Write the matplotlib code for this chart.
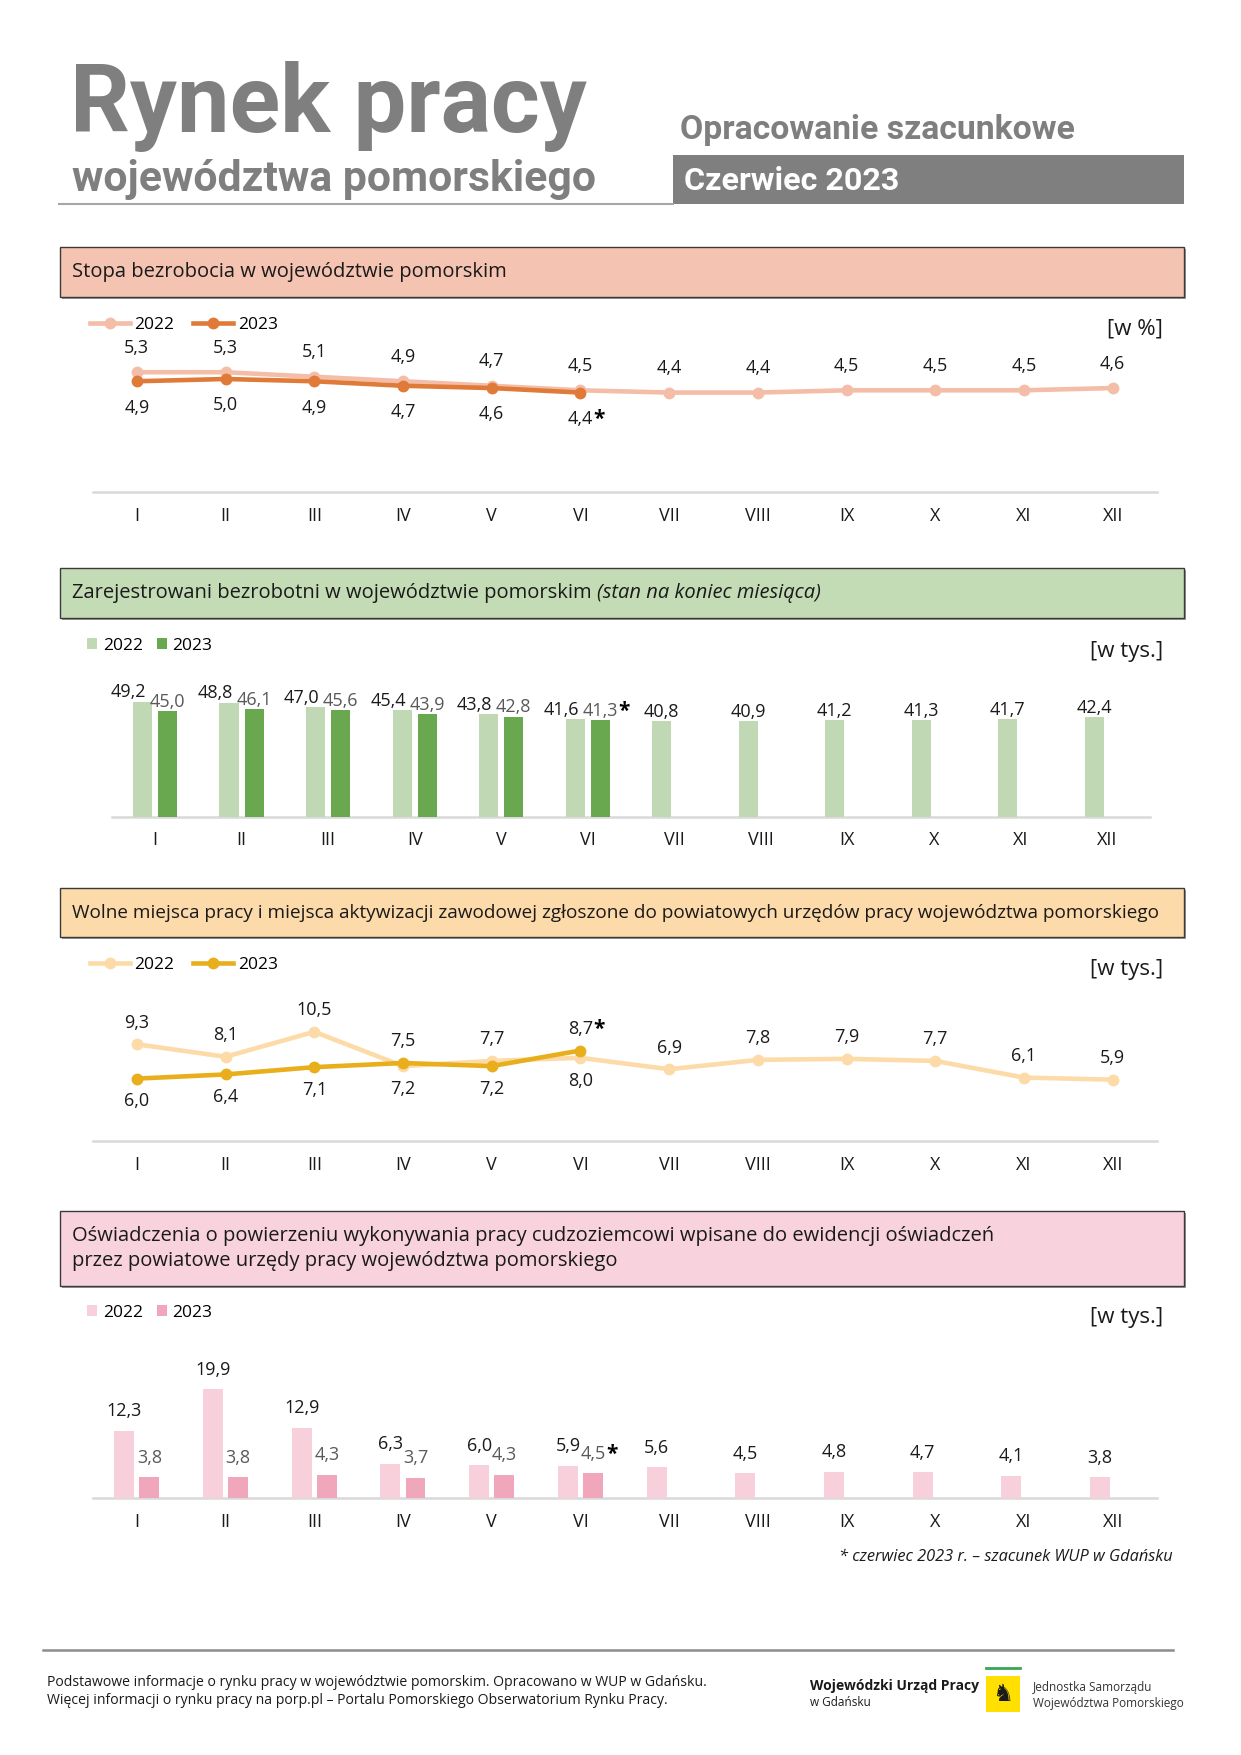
import numpy as np
import matplotlib.pyplot as plt
from matplotlib.patches import Rectangle
from matplotlib.lines import Line2D

W, H = 1241, 1755  # output size in px (dpi 100)

months = ['I', 'II', 'III', 'IV', 'V', 'VI', 'VII', 'VIII', 'IX', 'X', 'XI', 'XII']
years = ['2022', '2023']

# Stopa bezrobocia [%]
rate_2022 = [5.3, 5.3, 5.1, 4.9, 4.7, 4.5, 4.4, 4.4, 4.5, 4.5, 4.5, 4.6]
rate_2023 = [4.9, 5.0, 4.9, 4.7, 4.6, 4.4]

# Zarejestrowani bezrobotni [tys.]
unemployed_2022 = [49.2, 48.8, 47.0, 45.4, 43.8, 41.6, 40.8, 40.9, 41.2, 41.3, 41.7, 42.4]
unemployed_2023 = [45.0, 46.1, 45.6, 43.9, 42.8, 41.3]

# Wolne miejsca pracy [tys.]
offers_2022 = [9.3, 8.1, 10.5, 7.2, 7.7, 8.0, 6.9, 7.8, 7.9, 7.7, 6.1, 5.9]
offers_2023 = [6.0, 6.4, 7.1, 7.5, 7.2, 8.7]

# Oswiadczenia [tys.]
declar_2022 = [12.3, 19.9, 12.9, 6.3, 6.0, 5.9, 5.6, 4.5, 4.8, 4.7, 4.1, 3.8]
declar_2023 = [3.8, 3.8, 4.3, 3.7, 4.3, 4.5]

plt.rcParams['font.family'] = ['Open Sans', 'DejaVu Sans']

fig = plt.figure(figsize=(W / 100, H / 100), dpi=100)


def fx(x):
    return x / W


def fy(y):
    return 1 - y / H


def fmt(v):
    return f'{v:.1f}'.replace('.', ',')


def header_box(top, bottom, color):
    # drop shadow + box
    fig.patches.append(Rectangle((fx(62), fy(bottom + 2)), (1184 - 60) / W, (bottom - top) / H,
                                 transform=fig.transFigure, facecolor='#9a9a9a', edgecolor='none', zorder=0))
    fig.patches.append(Rectangle((fx(60), fy(bottom)), (1184 - 60) / W, (bottom - top) / H,
                                 transform=fig.transFigure, facecolor=color, edgecolor='#3a3a3a', lw=1, zorder=1))


def make_axes(left, right, baseline, ymax, px_unit):
    top = baseline - ymax * px_unit
    ax = fig.add_axes([fx(left), fy(baseline), (right - left) / W, (baseline - top) / H])
    ax.set_xlim(-0.5, 11.5)
    ax.set_ylim(0, ymax)
    for s in ax.spines.values():
        s.set_visible(False)
    ax.axhline(0, color='#D9D9D9', lw=1.8, zorder=1, clip_on=False)
    ax.set_yticks([])
    ax.set_xticks(range(12))
    ax.set_xticklabels(months)
    ax.tick_params(axis='x', length=0, pad=10.5, labelsize=13, labelcolor='#1a1a1a')
    ax.patch.set_alpha(0)
    return ax


def add_star(ax, txt):
    ax.annotate('*', xy=(1, 1), xycoords=txt, xytext=(0.5, 1), textcoords='offset points',
                ha='left', va='top', fontsize=15, fontweight='bold', color='black')


def line_chart(ax, v22, v23, c22, c23, up_off, down_off):
    l22, = ax.plot(range(len(v22)), v22, color=c22, lw=3.3, marker='o', ms=7.5,
                   zorder=3, clip_on=False)
    l23, = ax.plot(range(len(v23)), v23, color=c23, lw=3.3, marker='o', ms=7.5,
                   zorder=4, clip_on=False)
    for i, v in enumerate(v22):
        up = not (i < len(v23) and v23[i] > v)
        ax.annotate(fmt(v), (i, v), xytext=(0, up_off if up else -down_off),
                    textcoords='offset points', ha='center',
                    va='baseline' if up else 'top', fontsize=13, color='#1a1a1a')
    t = None
    for i, v in enumerate(v23):
        up = v > v22[i]
        t = ax.annotate(fmt(v), (i, v), xytext=(0, up_off if up else -down_off),
                        textcoords='offset points', ha='center',
                        va='baseline' if up else 'top', fontsize=13, color='#1a1a1a')
    add_star(ax, t)
    return l22, l23


def bar_chart(ax, v22, v23, c22, c23, width, off, pad, shift22):
    x = np.arange(len(v22))
    b22 = ax.bar(x - off, v22, width, color=c22, zorder=2)
    b23 = ax.bar(x[:len(v23)] + off, v23, width, color=c23, zorder=2)
    for i, v in enumerate(v22):
        dx = shift22 if i < len(v23) else 0
        ax.annotate(fmt(v), (i - off, v), xytext=(dx, pad), textcoords='offset points',
                    ha='center', va='baseline', fontsize=13, color='#1a1a1a')
    t = None
    for i, v in enumerate(v23):
        t = ax.annotate(fmt(v), (i + off, v), xytext=(0, pad), textcoords='offset points',
                        ha='center', va='baseline', fontsize=13, color='#595959')
    add_star(ax, t)
    return b22, b23


def line_legend(handles, y):
    fig.legend(handles, years, loc='center left', bbox_to_anchor=(fx(90), fy(y)), ncol=2,
               frameon=False, handlelength=2.3, handletextpad=0.25, columnspacing=1.1,
               fontsize=12.5, borderaxespad=0, borderpad=0)


def bar_legend(handles, y):
    fig.legend(handles, years, loc='center left', bbox_to_anchor=(fx(87), fy(y)), ncol=2,
               frameon=False, handlelength=0.6, handleheight=0.6, handletextpad=0.3,
               columnspacing=0.8, fontsize=12.5, borderaxespad=0, borderpad=0)


def unit_label(text, y):
    fig.text(fx(1163), fy(y), text, ha='right', va='center', fontsize=16, color='#1a1a1a')


# ---- page title ----
fig.text(fx(70), fy(132), 'Rynek pracy', family='Roboto', fontweight='bold', fontsize=67.5,
         color='#7f7f7f', ha='left', va='baseline')
fig.text(fx(72), fy(191), 'województwa pomorskiego', family='Roboto', fontweight='bold',
         fontsize=30.8, color='#7f7f7f', ha='left', va='baseline')
fig.text(fx(680), fy(139), 'Opracowanie szacunkowe', family='Roboto', fontweight='bold',
         fontsize=24.3, color='#7f7f7f', ha='left', va='baseline')
fig.patches.append(Rectangle((fx(673), fy(204)), (1184 - 673) / W, (204 - 155) / H,
                             transform=fig.transFigure, facecolor='#7f7f7f', edgecolor='none'))
fig.text(fx(684), fy(190), 'Czerwiec 2023', family='Roboto', fontweight='bold',
         fontsize=23.2, color='white', ha='left', va='baseline')
fig.add_artist(Line2D([fx(59), fx(673)], [fy(204), fy(204)], color='#a6a6a6', lw=1.5))

# ---- section 1 ----
header_box(247, 297, '#F5C3B1')
fig.text(fx(72), fy(272), 'Stopa bezrobocia w województwie pomorskim', fontsize=14.5,
         ha='left', va='center', color='#1a1a1a')
ax1 = make_axes(92.5, 1157, 492, 7, 22.6)
h1 = line_chart(ax1, rate_2022, rate_2023, '#F4BDA8', '#E07A38', 14, 12.5)
line_legend(h1, 325)
unit_label('[w %]', 329)

# ---- section 2 ----
header_box(568, 618, '#C4DCB6')
t2 = fig.text(fx(72), fy(593), 'Zarejestrowani bezrobotni w województwie pomorskim ', fontsize=14.5,
              ha='left', va='center', color='#1a1a1a')
bb = t2.get_window_extent(renderer=fig.canvas.get_renderer())
fig.text(bb.x1 / W, fy(593), '(stan na koniec miesiąca)', fontsize=14.5, style='italic',
         ha='left', va='center', color='#1a1a1a')
ax2 = make_axes(111.75, 1150.25, 816.5, 60, 2.335)
h2 = bar_chart(ax2, unemployed_2022, unemployed_2023, '#C0D9B4', '#6AA84F', 0.22, 0.145, 3, -10)
bar_legend(h2, 646)
unit_label('[w tys.]', 651)

# ---- section 3 ----
header_box(888, 937, '#FDDAAA')
fig.text(fx(72), fy(912.5), 'Wolne miejsca pracy i miejsca aktywizacji zawodowej zgłoszone do '
         'powiatowych urzędów pracy województwa pomorskiego', fontsize=13.7,
         ha='left', va='center', color='#1a1a1a')
ax3 = make_axes(92.5, 1157, 1141, 14, 10.4)
h3 = line_chart(ax3, offers_2022, offers_2023, '#FDDBA8', '#E8AE1C', 12, 10)
line_legend(h3, 965)
unit_label('[w tys.]', 970)

# ---- section 4 ----
header_box(1211, 1286, '#F8D3DE')
fig.text(fx(72), fy(1248.5), 'Oświadczenia o powierzeniu wykonywania pracy cudzoziemcowi wpisane '
         'do ewidencji oświadczeń\nprzez powiatowe urzędy pracy województwa pomorskiego',
         fontsize=14.5, ha='left', va='center', color='#1a1a1a', linespacing=1.3)
ax4 = make_axes(92.5, 1157, 1498, 25, 5.46)
h4 = bar_chart(ax4, declar_2022, declar_2023, '#F7D0DB', '#F0A7BC', 0.225, 0.141, 10.5, 0)
bar_legend(h4, 1313)
unit_label('[w tys.]', 1317)

fig.text(fx(1173), fy(1557), '* czerwiec 2023 r. – szacunek WUP w Gdańsku', fontsize=11.8,
         style='italic', ha='right', va='center', color='#1a1a1a')

# ---- footer ----
fig.add_artist(Line2D([fx(42.5), fx(1173)], [fy(1650), fy(1650)], color='#8c8c8c', lw=1.8))
fig.text(fx(47), fy(1682), 'Podstawowe informacje o rynku pracy w województwie pomorskim. '
         'Opracowano w WUP w Gdańsku.', fontsize=10.1, ha='left', va='center', color='#1a1a1a')
fig.text(fx(47), fy(1700), 'Więcej informacji o rynku pracy na porp.pl – Portalu Pomorskiego '
         'Obserwatorium Rynku Pracy.', fontsize=10.1, ha='left', va='center', color='#1a1a1a')
fig.text(fx(810), fy(1686), 'Wojewódzki Urząd Pracy', fontsize=10, fontweight='bold',
         ha='left', va='center', color='#1a1a1a')
fig.text(fx(810), fy(1703), 'w Gdańsku', fontsize=8.5, ha='left', va='center', color='#1a1a1a')
fig.patches.append(Rectangle((fx(986), fy(1712)), 34 / W, 36 / H, transform=fig.transFigure,
                             facecolor='#FFE000', edgecolor='none'))
fig.add_artist(Line2D([fx(986), fx(1020)], [fy(1668), fy(1668)], color='#3aa655', lw=2))
fig.text(fx(1003), fy(1694), '♞', fontsize=17, ha='center', va='center', color='#1a1a1a',
         family='DejaVu Sans')
fig.text(fx(1033), fy(1687), 'Jednostka Samorządu', fontsize=8.5, ha='left', va='center',
         color='#333333')
fig.text(fx(1033), fy(1703), 'Województwa Pomorskiego', fontsize=8.5, ha='left', va='center',
         color='#333333')

fig.savefig('out.png', dpi=100)
